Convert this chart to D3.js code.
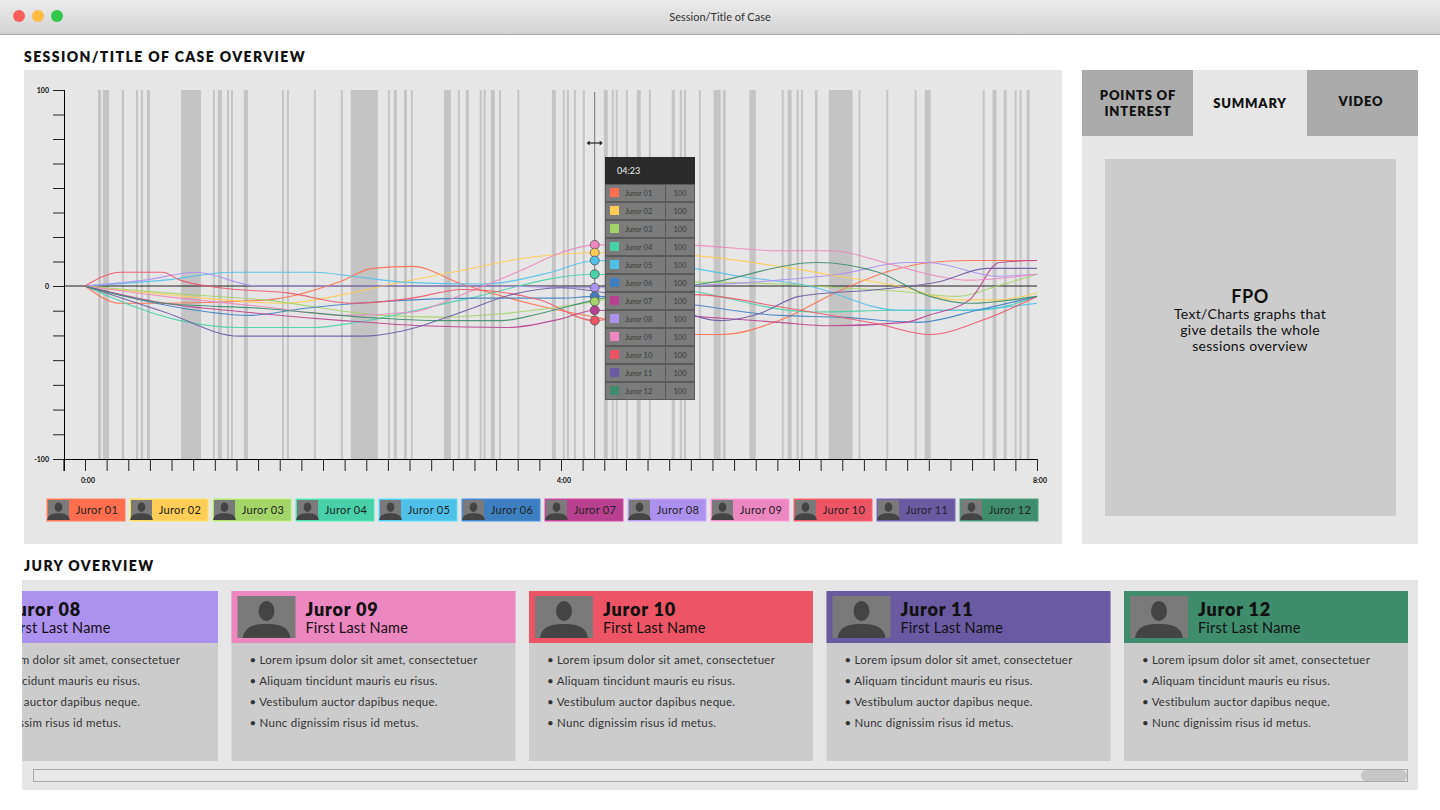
<!DOCTYPE html>
<html>
<head>
<meta charset="utf-8">
<script src="https://cdn.jsdelivr.net/npm/d3@7"></script>
<style>
  html, body { margin: 0; padding: 0; background: #fff; }
  svg { display: block; font-family: Lato, "Open Sans", sans-serif; }
</style>
</head>
<body>
<div id="app"></div>
<script>
// ---- data ----
const jurorNames = ['Juror 01','Juror 02','Juror 03','Juror 04','Juror 05','Juror 06',
                    'Juror 07','Juror 08','Juror 09','Juror 10','Juror 11','Juror 12'];
const jurorColors = ['#ff6e4e','#ffcc55','#a3d468','#48d0a8','#4fc1e9','#3e7fc1',
                     '#b94090','#ad91ee','#ec87bf','#ed5565','#6a5aa2','#3f8d6d'];
// sentiment per juror: [minute, value]
const juror01 = [[0,0],[18,-10],[39,-10],[92,-8],[128,2],[145,9],[165,10],[190,1],[231,-12],[257,-18],[307,-28],[321,-28],[350,-20],[380,-3],[407,8],[426,12],[446,13],[480,13]];
const juror02 = [[0,0],[50,-6],[100,-10],[130,-5],[150,0],[190,8],[220,14],[257,17],[300,16],[350,10],[380,5],[410,0],[440,-8],[460,-8],[480,-4]];
const juror03 = [[0,0],[40,-4],[90,-8],[150,-17],[180,-18],[210,-16],[240,-12],[257,-9],[300,2],[350,1],[380,-1],[410,-3],[440,-6],[460,0],[480,6]];
const juror04 = [[0,0],[48,-20],[77,-24],[115,-24],[137,-21],[190,-8],[257,6],[307,-3],[367,-15],[411,-14],[450,-14],[480,-6]];
const juror05 = [[0,0],[40,3],[75,7],[115,7],[135,5],[160,2],[200,1],[235,7],[257,13],[300,10],[330,5],[365,0],[410,-14],[440,-14],[480,-10]];
const juror06 = [[0,0],[45,-12],[83,-17],[110,-13],[150,-9],[200,-7],[240,-7],[257,-6],[300,-10],[350,-17],[380,-18],[420,-21],[450,-14],[480,-6]];
const juror07 = [[0,0],[40,-10],[80,-15],[130,-20],[170,-23],[213,-24],[240,-19],[257,-14],[300,-17],[350,-21],[375,-23],[414,-21],[425,-17],[446,-8],[461,12],[480,13]];
const juror08 = [[0,0],[30,3],[56,7],[87,0],[200,0],[257,-1],[300,0],[350,3],[380,6],[414,12],[425,12],[460,5],[480,6]];
const juror09 = [[0,0],[40,-6],[90,-12],[130,-17],[165,-15],[190,-5],[220,8],[240,17],[257,21],[300,21],[350,18],[375,18],[410,10],[430,5],[445,3],[480,6]];
const juror10 = [[0,0],[18,7],[39,7],[48,3],[68,-1],[102,-4],[135,-10],[165,-7],[190,-2],[229,-8],[257,-20],[307,-5],[350,-12],[400,-22],[426,-28],[452,-20],[480,-6]];
const juror11 = [[0,0],[40,-15],[78,-29],[140,-29],[160,-26],[190,-15],[215,-5],[240,-1],[257,-3],[290,-10],[320,-20],[340,-16],[360,-6],[400,-2],[430,2],[455,9],[480,9]];
const juror12 = [[0,0],[40,-10],[90,-13],[140,-18],[180,-20],[210,-20],[229,-16],[257,-8],[317,2],[369,12],[400,7],[426,-6],[446,-10],[480,-6]];
const series = [juror01,juror02,juror03,juror04,juror05,juror06,juror07,juror08,juror09,juror10,juror11,juror12];

// shaded moments [start minute, end minute]
const moments = [[6.6,8.1],[9.1,12.1],[18.6,19.7],[25.7,26.7],[28.2,29.2],[31.2,32.8],[48.4,58.5],[64.5,65.5],[67,69],
  [71.6,72.6],[73.6,74.6],[80.1,82.2],[99.3,100.3],[101.8,102.8],[115.4,116.4],[129,130],[134,147.7],[152.7,153.7],
  [155.7,157.2],[160.8,162.3],[164.3,165.3],[181,184.5],[188,189],[192,193.5],[199,200],[201,202],[204.6,206.6],
  [208.7,209.7],[218,219],[235.4,237.4],[240.9,241.9],[243,244],[246.5,247.5],[251,252],[261.6,263.6],[265.6,266.6],
  [267.6,268.6],[272.7,273.7],[278.2,280.2],[284.3,285.3],[295.8,297.4],[299.9,300.9],[302,303],[309.5,310.5],
  [317,320.5],[321.6,323],[335,338.2],[351.3,352.3],[354.3,356.3],[358.8,359.9],[361,362],[368,369.4],[375,387],
  [390,391],[404,405],[418.3,419.3],[423.4,426.4],[452.6,453.6],[457.6,459.6],[463.2,464.7],[468.7,469.7],
  [471.2,472.2],[474.8,476.3]];
const cursorMinute = 257;
const cursorLabel = '04:23';
const tooltipValues = [100,100,100,100,100,100,100,100,100,100,100,100];
const dotJurors = [8,1,4,3,7,5,2,6,9]; // jurors marked at the cursor
const xTickLabels = [[0,'0:00'],[240,'4:00'],[480,'8:00']];
const yTickLabels = [100,0,-100];

const cardJurors = [7,8,9,10,11];
const bullets = ['• Lorem ipsum dolor sit amet, consectetuer','• Aliquam tincidunt mauris eu risus.',
                 '• Vestibulum auctor dapibus neque.','• Nunc dignissim risus id metus.'];

// ---- page ----
const W = 1440, H = 810;
const svg = d3.select('#app').append('svg').attr('width', W).attr('height', H);
const defs = svg.append('defs');
const grad = defs.append('linearGradient').attr('id','bar').attr('x1',0).attr('x2',0).attr('y1',0).attr('y2',1);
grad.append('stop').attr('offset','0%').attr('stop-color','#ececec');
grad.append('stop').attr('offset','100%').attr('stop-color','#d3d3d3');

svg.append('rect').attr('width', W).attr('height', 34).attr('fill','url(#bar)');
svg.append('line').attr('x1',0).attr('x2',W).attr('y1',34.5).attr('y2',34.5).attr('stroke','#a8a8a8');
[['#fc605c',19],['#fdbc40',38],['#34c84a',57]].forEach(([c,x]) =>
  svg.append('circle').attr('cx',x).attr('cy',16).attr('r',6).attr('fill',c));
svg.append('text').attr('x',720).attr('y',21).attr('text-anchor','middle')
  .attr('font-size',11).attr('fill','#333').text('Session/Title of Case');

function heading(x, y, t) {
  svg.append('text').attr('x',x).attr('y',y).attr('font-size',14).attr('font-weight',800)
    .attr('letter-spacing',1.4).attr('fill','#111').text(t);
}
heading(24, 62, 'SESSION/TITLE OF CASE OVERVIEW');
heading(24, 571, 'JURY OVERVIEW');

svg.append('rect').attr('x',24).attr('y',70).attr('width',1038).attr('height',474).attr('fill','#e6e6e6');

// ---- chart ----
const x = d3.scaleLinear().domain([0,480]).range([85,1037]);
const y = d3.scaleLinear().domain([-100,0,100]).range([459,286,90]);
const chart = svg.append('g');

chart.selectAll('rect.moment').data(moments).join('rect').attr('class','moment')
  .attr('x', d => x(d[0])).attr('width', d => x(d[1]) - x(d[0]))
  .attr('y', y(100)).attr('height', y(-100) - y(100)).attr('fill','#c4c4c4');

const xTicks = d3.range(-1, 45).map(k => k * 480 / 44);
const xAxis = d3.axisBottom(x).tickValues(xTicks).tickSize(12).tickFormat('');
chart.append('g').attr('transform','translate(0,459)').call(xAxis)
  .call(g => g.select('.domain').attr('d','M64,0.5H1037'))
  .call(g => g.selectAll('line').attr('stroke','#222'));
chart.selectAll('text.xl').data(xTickLabels).join('text').attr('class','xl')
  .attr('x', d => x(d[0]) + 3).attr('y', 483).attr('text-anchor','middle')
  .attr('font-size',7).attr('font-weight',700).attr('fill','#111').text(d => d[1]);

const yTicks = d3.range(0, 100.1, 12.5).concat(d3.range(1, 8).map(k => -k * 100 / 7));
const yAxis = d3.axisLeft(y).tickValues(yTicks).tickSize(11).tickFormat('');
chart.append('g').attr('transform','translate(64,0)').call(yAxis)
  .call(g => g.select('.domain').attr('d','M0.5,90V471'))
  .call(g => g.selectAll('line').attr('stroke','#222'));
chart.selectAll('text.yl').data(yTickLabels).join('text').attr('class','yl')
  .attr('x', 49).attr('y', d => y(d) + 2.5).attr('text-anchor','end')
  .attr('font-size',7).attr('font-weight',700).attr('fill','#111').text(d => d);

chart.append('line').attr('x1',64).attr('x2',1037).attr('y1',y(0)).attr('y2',y(0))
  .attr('stroke','#222').attr('stroke-width',1.2);

const line = d3.line().x(d => x(d[0])).y(d => y(d[1])).curve(d3.curveMonotoneX);
chart.selectAll('path.juror').data(series).join('path').attr('class','juror')
  .attr('d', line).attr('fill','none').attr('stroke', (d,i) => jurorColors[i])
  .attr('stroke-width',1.1).attr('opacity',0.9);

// cursor
const cx = x(cursorMinute);
chart.append('line').attr('x1',cx).attr('x2',cx).attr('y1',92).attr('y2',459)
  .attr('stroke','#555').attr('stroke-width',0.8);
chart.append('line').attr('x1',cx-6).attr('x2',cx+6).attr('y1',143).attr('y2',143).attr('stroke','#222').attr('stroke-width',1.2);
chart.append('path').attr('d',`M${cx-8},143l3,-2.5v5z M${cx+8},143l-3,-2.5v5z`).attr('fill','#222');

function valueAt(s, m) {
  const i = d3.bisector(d => d[0]).left(s, m);
  return s[Math.min(i, s.length-1)][1];
}
chart.selectAll('circle.dot').data(dotJurors).join('circle').attr('class','dot')
  .attr('cx', cx).attr('cy', j => y(valueAt(series[j], cursorMinute))).attr('r',4.5)
  .attr('fill', j => jurorColors[j]).attr('stroke','#555').attr('stroke-width',0.8);

// tooltip
const tip = svg.append('g').attr('transform','translate(605,157)');
tip.append('rect').attr('width',90).attr('height',243).attr('fill','#5a5a5a');
tip.append('rect').attr('width',90).attr('height',27).attr('fill','#2a2a2a');
tip.append('text').attr('x',12).attr('y',17).attr('font-size',9).attr('fill','#eee').text(cursorLabel);
const rows = tip.selectAll('g.row').data(jurorNames).join('g').attr('class','row')
  .attr('transform', (d,i) => `translate(0,${27 + i*18})`);
rows.append('rect').attr('x',1).attr('y',1).attr('width',59).attr('height',16).attr('fill','#7b7b7b');
rows.append('rect').attr('x',61).attr('y',1).attr('width',28).attr('height',16).attr('fill','#7b7b7b');
rows.append('rect').attr('x',5).attr('y',4).attr('width',9).attr('height',9).attr('fill',(d,i) => jurorColors[i]);
rows.append('text').attr('x',20).attr('y',12).attr('font-size',7.5).attr('fill','#3a3a3a').text(d => d);
rows.append('text').attr('x',75).attr('y',12).attr('text-anchor','middle').attr('font-size',7.5)
  .attr('fill','#3a3a3a').text((d,i) => tooltipValues[i]);

// silhouette avatar
function avatar(g, w, h) {
  g.append('rect').attr('width',w).attr('height',h).attr('fill','#7a7a7a');
  const s = h / 42;
  g.append('ellipse').attr('cx',w/2).attr('cy',15*s).attr('rx',8*s).attr('ry',10*s).attr('fill','#444');
  g.append('path').attr('d',`M${w/2-24*s},${h} Q${w/2-22*s},${27*s} ${w/2},${28*s} Q${w/2+22*s},${27*s} ${w/2+24*s},${h}Z`).attr('fill','#444');
}

// legend
const leg = svg.selectAll('g.leg').data(jurorNames).join('g').attr('class','leg')
  .attr('transform', (d,i) => `translate(${47 + i*83},499)`);
leg.append('rect').attr('width',78).attr('height',22).attr('fill',(d,i) => jurorColors[i])
  .attr('stroke',(d,i) => d3.color(jurorColors[i]).brighter(0.4)).attr('stroke-width',1);
leg.each(function() { avatar(d3.select(this).append('g').attr('transform','translate(1,1)'), 21, 20); });
leg.append('text').attr('x',50).attr('y',15).attr('text-anchor','middle').attr('font-size',11)
  .attr('letter-spacing',0.3).attr('fill','#222').text(d => d);

// summary panel
svg.append('rect').attr('x',1082).attr('y',70).attr('width',336).attr('height',474).attr('fill','#e6e6e6');
svg.append('rect').attr('x',1082).attr('y',70).attr('width',111).attr('height',66).attr('fill','#ababab');
svg.append('rect').attr('x',1307).attr('y',70).attr('width',111).attr('height',66).attr('fill','#ababab');
function tab(xc, ys, lines) {
  lines.forEach((t,i) => svg.append('text').attr('x',xc).attr('y',ys + i*16).attr('text-anchor','middle')
    .attr('font-size',13).attr('font-weight',800).attr('letter-spacing',0.8).attr('fill','#111').text(t));
}
tab(1138, 100, ['POINTS OF','INTEREST']);
tab(1250, 108, ['SUMMARY']);
tab(1361, 106, ['VIDEO']);
svg.append('rect').attr('x',1105).attr('y',159).attr('width',291).attr('height',357).attr('fill','#cccccc');
svg.append('text').attr('x',1250).attr('y',303).attr('text-anchor','middle').attr('font-size',18)
  .attr('font-weight',700).attr('letter-spacing',0.5).attr('fill','#111').text('FPO');
['Text/Charts graphs that','give details the whole','sessions overview'].forEach((t,i) =>
  svg.append('text').attr('x',1250).attr('y',319 + i*16).attr('text-anchor','middle')
    .attr('font-size',14).attr('letter-spacing',0.3).attr('fill','#111').text(t));

// jury overview
svg.append('rect').attr('x',22).attr('y',580).attr('width',1396).attr('height',210).attr('fill','#e6e6e6');
defs.append('clipPath').attr('id','jclip').append('rect').attr('x',22).attr('y',580).attr('width',1396).attr('height',210);
const cards = svg.append('g').attr('clip-path','url(#jclip)').selectAll('g.card').data(cardJurors).join('g')
  .attr('class','card').attr('transform', (d,i) => `translate(${-66 + i*297.5},591)`);
cards.append('rect').attr('width',284).attr('height',170).attr('fill','#cccccc');
cards.append('rect').attr('width',284).attr('height',52).attr('fill', j => jurorColors[j]);
cards.each(function() { avatar(d3.select(this).append('g').attr('transform','translate(6,5)'), 58, 42); });
cards.append('text').attr('x',74).attr('y',25).attr('font-size',18).attr('font-weight',800)
  .attr('letter-spacing',0.8).attr('fill','#111').text(j => jurorNames[j]);
cards.append('text').attr('x',74).attr('y',42).attr('font-size',14.5).attr('letter-spacing',0.2)
  .attr('fill','#111').text('First Last Name');
bullets.forEach((b,k) => cards.append('text').attr('x',18).attr('y',73 + k*21).attr('font-size',11.5)
  .attr('letter-spacing',0.25).attr('fill','#333').text(b));

// scrollbar
svg.append('rect').attr('x',33.5).attr('y',769.5).attr('width',1374).attr('height',12).attr('fill','#e8e8e8').attr('stroke','#a8a8a8');
svg.append('rect').attr('x',1361).attr('y',770).attr('width',46).attr('height',11).attr('rx',5.5).attr('fill','#c6c6c6');
</script>
</body>
</html>
